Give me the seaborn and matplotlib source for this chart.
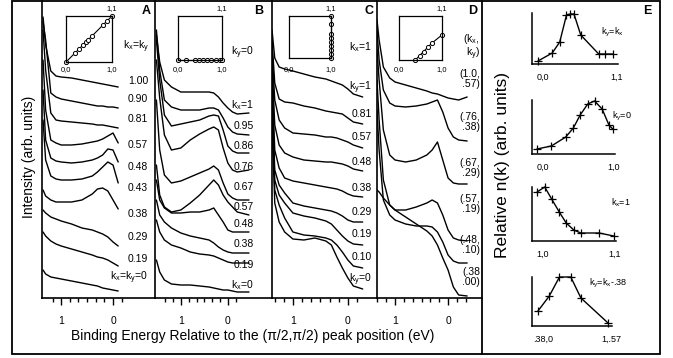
import matplotlib
matplotlib.use('Agg')
import matplotlib.pyplot as plt
import seaborn as sns
from matplotlib.patches import Rectangle
from matplotlib.lines import Line2D

sns.set_theme(style='white')
plt.rcParams['font.family'] = ['Liberation Sans', 'DejaVu Sans']
plt.rcParams['mathtext.default'] = 'regular'

# ---- data: EDC intensities (arb. units) ----
energy_a = [1.35, 1.3, 1.2, 1.1, 1.0, 0.8, 0.6, 0.4, 0.3, 0.2, 0.1, 0.0, -0.1]
edc_a = [
    [281, 253, 227, 222, 221, 220, 218, 216, 215, 214, 213, 212, 211],
    [276, 258, 205, 201, 199, 197, 195, 193, 192, 192, 191, 191, 190],
    [268, 228, 185, 178, 177, 176, 175, 174, 173, 173, 172, 171, 170],
    [238, 188, 158, 155, 153, 153, 154, 156, 157, 159, 162, 165, 155],
    [208, 158, 140, 137, 136, 135, 136, 138, 140, 143, 149, 148, 136],
    [178, 138, 122, 119, 118, 118, 119, 122, 126, 131, 136, 133, 115],
    [108, 102, 98, 96, 96, 96, 98, 104, 109, 110, 107, 98, 89],
    [88, 85, 81, 79, 77, 74, 70, 68, 66, 64, 61, 56, 52],
    [66, 62, 57, 54, 52, 49, 46, 43, 41, 40, 38, 35, 32],
    [28, 24, 21, 20, 19, 17, 15, 13, 12, 10, 9, 8, 7],
]
labels_a = ['1.00', '0.90', '0.81', '0.57', '0.48', '0.43', '0.38', '0.29', '0.19', '$k_x$=$k_y$=0']

energy_b = [1.52, 1.45, 1.35, 1.2, 1.0, 0.8, 0.6, 0.4, 0.3, 0.2, 0.1, 0.0, -0.1, -0.2, -0.45]
edc_b = [
    [263, 236, 218, 211, 206, 206, 206, 206, 205, 201, 195, 190, 186, 184, 185],
    [268, 228, 198, 191, 188, 188, 188, 190, 190, 188, 180, 171, 166, 164, 163],
    [258, 218, 183, 172, 174, 176, 178, 182, 183, 182, 168, 152, 147, 145, 145],
    [238, 200, 163, 148, 150, 158, 164, 169, 171, 168, 150, 135, 128, 126, 128],
    [198, 148, 123, 115, 117, 121, 125, 129, 132, 128, 115, 104, 100, 98, 98],
    [133, 103, 91, 86, 88, 95, 103, 113, 118, 113, 103, 96, 91, 86, 83],
    [118, 98, 90, 85, 85, 86, 86, 88, 90, 83, 76, 68, 66, 66, 66],
    [98, 83, 76, 70, 65, 62, 60, 58, 55, 51, 48, 46, 45, 45, 45],
    [78, 66, 58, 53, 50, 46, 44, 43, 42, 40, 38, 36, 35, 35, 35],
    [38, 26, 18, 14, 13, 13, 12, 11, 10, 9, 8, 8, 7, 6, 6],
]
labels_b = ['$k_x$=1', '0.95', '0.86', '0.76', '0.67', '0.57', '0.48', '0.38', '0.19', '$k_x$=0']

energy_c = [1.38, 1.33, 1.25, 1.15, 1.0, 0.8, 0.6, 0.4, 0.3, 0.2, 0.1, 0.0, -0.1, -0.27]
edc_c = [
    [268, 240, 231, 229, 227, 224, 221, 219, 217, 215, 213, 209, 204, 201],
    [258, 215, 199, 196, 195, 192, 190, 187, 186, 185, 184, 180, 176, 174],
    [248, 198, 178, 170, 165, 164, 163, 161, 161, 160, 158, 156, 153, 150],
    [238, 173, 153, 145, 141, 138, 137, 136, 136, 135, 134, 132, 129, 127],
    [223, 148, 130, 120, 117, 115, 113, 111, 110, 109, 107, 104, 102, 101],
    [208, 128, 113, 105, 95, 92, 90, 88, 87, 85, 82, 78, 76, 76],
    [198, 118, 103, 95, 85, 82, 80, 77, 74, 68, 62, 57, 54, 53],
    [188, 108, 93, 80, 66, 63, 62, 60, 58, 53, 46, 38, 32, 30],
    [178, 95, 76, 66, 59, 58, 60, 57, 53, 41, 30, 20, 12, 9],
]
labels_c = ['$k_y$=1', '0.81', '0.57', '0.48', '0.38', '0.29', '0.19', '0.10', '$k_y$=0']

energy_d = [1.34, 1.3, 1.22, 1.1, 1.0, 0.8, 0.6, 0.4, 0.3, 0.2, 0.1, 0.0, -0.1, -0.2, -0.36]
edc_d = [
    [278, 258, 231, 220, 216, 213, 210, 207, 205, 204, 202, 200, 199, 198, 201],
    [268, 238, 208, 195, 192, 191, 192, 194, 196, 198, 186, 170, 161, 158, 157],
    [248, 218, 168, 143, 138, 136, 138, 143, 148, 156, 138, 120, 115, 114, 114],
    [218, 178, 118, 93, 88, 88, 91, 95, 98, 95, 83, 68, 60, 58, 57],
    [188, 148, 98, 83, 78, 74, 72, 72, 71, 66, 56, 43, 37, 35, 35],
    [108, 106, 100, 93, 88, 81, 74, 67, 62, 53, 40, 28, 11, 3, 2],
]
labels_d = ['(1.0,\n.57)', '(.76,\n.38)', '(.67,\n.29)', '(.57,\n.19)', '(.48,\n.10)', '(.38\n.00)']

# k-space paths shown in the insets
path_a_kx = [0, 0.19, 0.29, 0.38, 0.43, 0.48, 0.57, 0.81, 0.90, 1.0]
path_a_ky = [0, 0.19, 0.29, 0.38, 0.43, 0.48, 0.57, 0.81, 0.90, 1.0]
path_b_kx = [0, 0.19, 0.38, 0.48, 0.57, 0.67, 0.76, 0.86, 0.95, 1.0]
path_b_ky = [0, 0, 0, 0, 0, 0, 0, 0, 0, 0]
path_c_kx = [1, 1, 1, 1, 1, 1, 1, 1, 1]
path_c_ky = [0, 0.10, 0.19, 0.29, 0.38, 0.48, 0.57, 0.81, 1.0]
path_d_kx = [0.38, 0.48, 0.57, 0.67, 0.76, 1.0]
path_d_ky = [0.0, 0.10, 0.19, 0.29, 0.38, 0.57]

# relative n(k) in panel E
nk_diag_k = [0, 0.19, 0.29, 0.38, 0.43, 0.48, 0.57, 0.81, 0.90, 1.0]
nk_diag = [3, 11, 22, 49, 50, 50, 29, 10, 10, 10]
nk_ky0_k = [0, 0.19, 0.38, 0.48, 0.57, 0.67, 0.76, 0.86, 0.95, 1.0]
nk_ky0 = [5, 8, 17, 26, 39, 50, 53, 45, 29, 25]
nk_kx1_k = [0, 0.10, 0.19, 0.29, 0.38, 0.48, 0.57, 0.81, 1.0]
nk_kx1 = [49, 54, 42, 29, 18, 11, 8, 8, 5]
nk_shift_k = [0.38, 0.48, 0.57, 0.67, 0.76, 1.0]
nk_shift = [15, 30, 49, 49, 28, 3]

W, H = 673, 358
fig = plt.figure(figsize=(W / 100, H / 100), dpi=100)
fig.patch.set_facecolor('white')


def px_axes(x0, y0, x1, y1):
    return fig.add_axes([x0 / W, 1 - y1 / H, (x1 - x0) / W, (y1 - y0) / H])


def ftext(x, y, s, **kw):
    kw.setdefault('fontsize', 7.5)
    kw.setdefault('va', 'center')
    fig.text(x / W, 1 - y / H, s, color='black', **kw)


def edc_panel(x0, x1, e_left, e_right, energy, curves, ticks):
    ax = px_axes(x0, 1, x1, 298)
    for vals in curves:
        sns.lineplot(x=energy, y=vals, ax=ax, color='black', lw=1.0, estimator=None)
    ax.set_xlim(e_left, e_right)
    ax.set_ylim(0, 297)
    ax.set_facecolor('none')
    for s in ['top', 'right']:
        ax.spines[s].set_visible(False)
    for s in ['left', 'bottom']:
        ax.spines[s].set_color('black')
        ax.spines[s].set_linewidth(1.2)
    ax.set_yticks([])
    ax.set_xticks([1, 0])
    ax.set_xticklabels(['1', '0'], fontsize=7.5)
    ax.set_xticks(ticks, minor=True)
    ax.tick_params(axis='x', which='major', direction='out', length=5, width=1,
                   bottom=True, pad=8, colors='black')
    ax.tick_params(axis='x', which='minor', direction='out', length=3, width=1,
                   bottom=True, colors='black')
    ax.set_xlabel('')
    ax.set_ylabel('')
    return ax


def inset(x0, y0, x1, y1, kx, ky):
    ax = px_axes(x0, y0, x1, y1)
    sns.lineplot(x=kx, y=ky, ax=ax, color='black', lw=0.8, sort=False, estimator=None,
                 marker='o', markersize=3, markerfacecolor='white',
                 markeredgecolor='black', markeredgewidth=0.7, clip_on=False)
    ax.set_xlim(0, 1)
    ax.set_ylim(0, 1)
    ax.set_xticks([])
    ax.set_yticks([])
    ax.set_xlabel('')
    ax.set_ylabel('')
    for s in ax.spines.values():
        s.set_color('black')
        s.set_linewidth(0.9)
    return ax


sixth = 1 / 6
edc_panel(42, 155, 1.37, -0.81, energy_a, edc_a, [k * sixth for k in range(-1, 8)])
edc_panel(155, 272, 1.55, -0.94, energy_b, edc_b, [k * sixth for k in range(-1, 9)])
edc_panel(272, 377, 1.38, -0.53, energy_c, edc_c, [k * sixth for k in range(-1, 9)])
edc_panel(377, 482, 1.34, -0.64, energy_d, edc_d, [k * sixth for k in range(-2, 9)])

inset(66, 16, 112, 62, path_a_kx, path_a_ky)
inset(178, 16, 222, 60, path_b_kx, path_b_ky)
inset(289, 16, 331, 58, path_c_kx, path_c_ky)
inset(399, 16, 442, 60, path_d_kx, path_d_ky)

for x0, x1 in [(66, 112), (178, 222), (289, 331), (399, 442)]:
    ftext(x1, 9, '1,1', fontsize=5.5, ha='center')
    ftext(x0, 70, '0,0', fontsize=5.5, ha='center')
    ftext(x1, 70, '1,0', fontsize=5.5, ha='center')

# curve labels
ftext(149, 47, '$k_x$=$k_y$', ha='right')
for s, y in zip(labels_a, [81, 99, 119, 145, 167, 188, 214, 237, 259, 278]):
    ftext(148, y, s, ha='right')
ftext(254, 53, '$k_y$=0', ha='right')
for s, y in zip(labels_b, [105, 126, 146, 167, 187, 207, 224, 244, 265, 285]):
    ftext(254, y, s, ha='right')
ftext(372, 47, '$k_x$=1', ha='right')
for s, y in zip(labels_c, [88, 114, 137, 162, 188, 212, 234, 257, 280]):
    ftext(372, y, s, ha='right')
ftext(480, 47, '($k_x$,\n$k_y$)', ha='right', linespacing=1.0)
for s, y in zip(labels_d, [79, 122, 168, 204, 245, 277]):
    ftext(480, y, s, ha='right', linespacing=1.0)

# panel letters
for s, x in zip('ABCDE', [146, 259, 369, 473, 647]):
    ftext(x, 11, s, fontsize=9, fontweight='bold', ha='center')

ftext(253, 336, 'Binding Energy Relative to the (\u03c0/2,\u03c0/2) peak position (eV)',
      fontsize=10, ha='center')
ftext(29, 157, 'Intensity (arb. units)', fontsize=10, ha='center', rotation=90)
ftext(503, 165, 'Relative n(k) (arb. units)', fontsize=12.5, ha='center', rotation=90)


# panel E: n(k) along each path
def nk_panel(x0, y0, x1, y1, k, n, klim, top, lab_l, lab_r, note, note_xy):
    ax = px_axes(x0, y0, x1, y1)
    sns.lineplot(x=k, y=n, ax=ax, color='black', lw=1.0, estimator=None, sort=False,
                 marker='+', markersize=6, markeredgecolor='black',
                 markeredgewidth=0.9, clip_on=False)
    ax.set_xlim(*klim)
    ax.set_ylim(0, top)
    ax.set_xticks([])
    ax.set_yticks([])
    ax.set_xlabel('')
    ax.set_ylabel('')
    ax.set_facecolor('none')
    for s in ['top', 'right']:
        ax.spines[s].set_visible(False)
    for s in ['left', 'bottom']:
        ax.spines[s].set_color('black')
        ax.spines[s].set_linewidth(1.1)
    ftext(x0 + 11, y1 + 13, lab_l, fontsize=6.5, ha='center')
    ftext(x1 - 1, y1 + 13, lab_r, fontsize=6.5, ha='center')
    ftext(note_xy[0], note_xy[1], note, fontsize=6.5, ha='left')


nk_panel(532, 13, 618, 64, nk_diag_k, nk_diag, (-0.08, 1.067), 51, '0,0', '1,1',
         '$k_y$=$k_x$', (601, 32))
nk_panel(532, 100, 615, 154, nk_ky0_k, nk_ky0, (-0.066, 1.03), 54, '0,0', '1,0',
         '$k_y$=0', (612, 116))
nk_panel(532, 187, 616, 241, nk_kx1_k, nk_kx1, (-0.066, 1.03), 54, '1,0', '1,1',
         '$k_x$=1', (611, 203))
nk_panel(532, 277, 612, 326, nk_shift_k, nk_shift, (0.327, 1.035), 49, '.38,0', '1,.57',
         '$k_y$=$k_x$-.38', (589, 283))

# frame and divider
fig.add_artist(Rectangle((12 / W, 1 - 354 / H), (660 - 12) / W, 353 / H, fill=False,
                         edgecolor='black', lw=1.3, transform=fig.transFigure))
fig.add_artist(Line2D([482 / W, 482 / W], [1 - 354 / H, 1 - 1 / H], color='black', lw=1.3,
                      transform=fig.transFigure))

fig.savefig('out.png', dpi=100, facecolor='white')
